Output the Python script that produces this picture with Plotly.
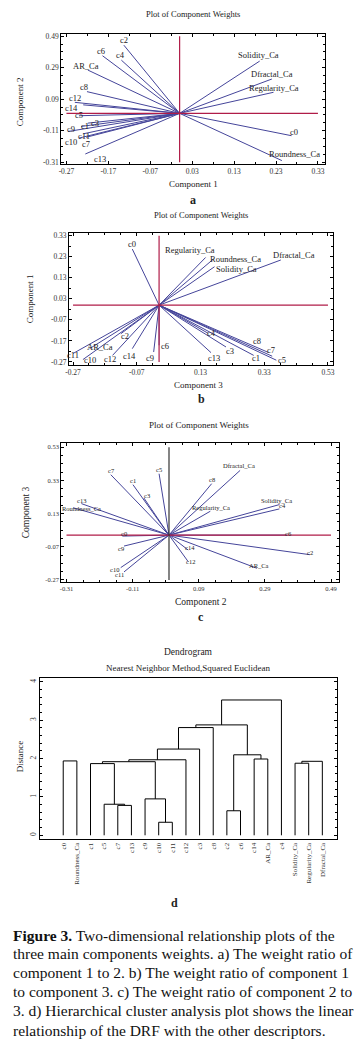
import plotly.graph_objects as go

W, H = 362, 1044
SERIF = "Liberation Serif"
VEC = "#45459a"
RED = "#b01c48"

# ---------------- data ----------------
names_a = ["c0", "c1", "c2", "c3", "c4", "c5", "c6", "c7", "c8", "c9", "c10", "c11", "c12", "c13", "c14",
           "AR_Ca", "Solidity_Ca", "Dfractal_Ca", "Regularity_Ca", "Roundness_Ca"]
comp1_a = [0.267, -0.235, -0.133, -0.219, -0.139, -0.240, -0.184, -0.223, -0.221, -0.266, -0.240, -0.230, -0.250, -0.225, -0.230,
           -0.219, 0.191, 0.220, 0.224, 0.244]
comp2_a = [-0.142, -0.083, 0.433, -0.062, 0.338, -0.015, 0.366, -0.152, 0.138, -0.115, -0.157, -0.130, 0.070, -0.258, 0.054,
           0.275, 0.332, 0.218, 0.134, -0.300]

names_b = names_a
comp3_b = [-0.084, 0.297, -0.120, 0.210, 0.154, 0.368, 0.000, 0.355, 0.343, -0.017, -0.239, -0.270, -0.146, 0.163, -0.084,
           -0.218, 0.174, 0.382, 0.146, 0.171]
comp1_b = [0.267, -0.239, -0.136, -0.199, -0.134, -0.262, -0.191, -0.243, -0.225, -0.223, -0.259, -0.230, -0.239, -0.226, -0.207,
           -0.207, 0.183, 0.215, 0.227, 0.220]

names_c = names_a
comp2_c = [-0.141, -0.109, 0.426, -0.076, 0.334, -0.030, 0.356, -0.176, 0.129, -0.136, -0.146, -0.136, 0.058, -0.265, 0.058,
           0.266, 0.334, 0.215, 0.125, -0.290]
comp3_c = [-0.006, 0.304, -0.118, 0.224, 0.158, 0.370, 0.000, 0.364, 0.310, -0.066, -0.196, -0.222, -0.160, 0.190, -0.090,
           -0.200, 0.184, 0.390, 0.144, 0.165]

ticks_a_x = [-0.27, -0.17, -0.07, 0.03, 0.13, 0.23, 0.33]
ticks_a_y = [-0.31, -0.11, 0.09, 0.29, 0.49]
ticks_b_x = [-0.27, -0.07, 0.13, 0.33, 0.53]
ticks_b_y = [-0.27, -0.17, -0.07, 0.03, 0.13, 0.23, 0.33]
ticks_c_x = [-0.31, -0.11, 0.09, 0.29, 0.49]
ticks_c_y = [-0.27, -0.07, 0.13, 0.33, 0.53]

leaves = ["c0", "Roundness_Ca", "c1", "c5", "c7", "c13", "c9", "c10", "c11", "c12", "c3", "c8",
          "c2", "c6", "c14", "AR_Ca", "c4", "Solidity_Ca", "Regularity_Ca", "Dfractal_Ca"]
merge_left = ["c7", "c5", "c1", "c10", "c9", "m2", "m5", "m6", "m7", "c2", "c14", "m9", "m8", "m12",
              "Solidity_Ca", "m14", "c0"]
merge_right = ["c13", "m0", "m1", "c11", "m3", "m4", "c12", "c3", "c8", "c6", "AR_Ca", "m10", "m11", "c4",
               "Regularity_Ca", "Dfractal_Ca", "Roundness_Ca"]
merge_height = [0.78, 0.81, 1.87, 0.34, 0.95, 1.92, 1.97, 2.25, 2.81, 0.64, 1.99, 2.10, 2.88, 3.53,
                1.88, 1.93, 1.94]

caption_lines = [
    "<b>Figure 3.</b> Two-dimensional relationship plots of the",
    "three main components weights. a) The weight ratio of",
    "component 1 to 2. b) The weight ratio of component 1",
    "to component 3. c) The weight ratio of component 2 to",
    "3. d) Hierarchical cluster analysis plot shows the linear",
    "relationship of the DRF with the other descriptors.",
]

# ---------------- label offsets (px, right/down) ----------------
off_a = {"c0": (2, -4), "c1": (4, 0), "c2": (0, -5), "c3": (7, 0), "c4": (-1, -5), "c5": (0, -1), "c6": (-1, -5),
         "c7": (0, 7), "c8": (-3, -5), "c9": (3, -2), "c10": (-8, 4), "c11": (1, 2), "c12": (0, -4), "c13": (15, 5),
         "c14": (-12, 3), "AR_Ca": (-2, -4), "Solidity_Ca": (-1, -6), "Dfractal_Ca": (0, -5),
         "Regularity_Ca": (0, -4), "Roundness_Ca": (13, -7)}
off_b = {"c0": (0, -5), "c1": (2, 3), "c2": (4, 2), "c3": (4, 4), "c4": (3, 0), "c5": (6, 0), "c6": (6, 1),
         "c7": (-1, -6), "c8": (-11, -11), "c9": (-4, 6), "c10": (7, 0), "c11": (0, 2), "c12": (-3, 4), "c13": (3, 5),
         "c14": (-3, 7), "AR_Ca": (10, -2), "Solidity_Ca": (22, 2), "Dfractal_Ca": (13, -5),
         "Regularity_Ca": (-16, -7), "Roundness_Ca": (22, 0)}
off_c = {"c0": (2, -3), "c1": (0, -4), "c2": (0, -2), "c3": (3, -2), "c4": (3, -3), "c5": (0, -4), "c6": (2, -2),
         "c7": (1, -4), "c8": (0, -4), "c9": (-3, 2), "c10": (-6, 2), "c11": (-5, 3), "c12": (2, 0), "c13": (0, -3),
         "c14": (2, -3), "AR_Ca": (2, -3), "Solidity_Ca": (-3, -4), "Dfractal_Ca": (-1, -5),
         "Regularity_Ca": (1, -4), "Roundness_Ca": (8, 1)}


def xd(p0, p1):
    return [p0 / W, p1 / W]


def yd(top, bottom):
    return [1 - bottom / H, 1 - top / H]


fig = go.Figure()
annotations = []


def ann(text, px, py, size=9, bold=False, angle=0, xanchor="center", color="#222"):
    annotations.append(dict(text=f"<b>{text}</b>" if bold else text, x=px / W, y=1 - py / H, xref="paper",
                            yref="paper", showarrow=False, xanchor=xanchor, yanchor="middle", textangle=angle,
                            borderpad=0, font=dict(family=SERIF, size=size, color=color)))


def vector_panel(ax, names, xs, ys, offs, xt, yt, vcolor, lsize):
    lx, ly = [], []
    for x, y in zip(xs, ys):
        lx += [0, x, None]
        ly += [0, y, None]
    xref = "x" if ax == 1 else f"x{ax}"
    yref = "y" if ax == 1 else f"y{ax}"
    fig.add_trace(go.Scatter(x=lx, y=ly, mode="lines", line=dict(color=VEC, width=1), xaxis=xref, yaxis=yref,
                             hoverinfo="skip", showlegend=False))
    fig.add_trace(go.Scatter(x=[xt[0], xt[-1]], y=[0, 0], mode="lines", line=dict(color=RED, width=1.2),
                             xaxis=xref, yaxis=yref, showlegend=False, hoverinfo="skip"))
    fig.add_trace(go.Scatter(x=[0, 0], y=[yt[0], yt[-1]], mode="lines", line=dict(color=vcolor, width=1.2),
                             xaxis=xref, yaxis=yref, showlegend=False, hoverinfo="skip"))
    for n, x, y in zip(names, xs, ys):
        dx, dy = offs[n]
        annotations.append(dict(text=n, x=x, y=y, xref=xref, yref=yref, showarrow=False, xshift=dx, yshift=-dy,
                                font=dict(family=SERIF, size=lsize, color="#222")))


vector_panel(1, names_a, comp1_a, comp2_a, off_a, ticks_a_x, ticks_a_y, RED, 8.5)
vector_panel(2, names_b, comp3_b, comp1_b, off_b, ticks_b_x, ticks_b_y, RED, 8.5)
vector_panel(3, names_c, comp2_c, comp3_c, off_c, ticks_c_x, ticks_c_y, "#333", 6.5)

# ---------------- dendrogram ----------------
pos = {n: (i, 0.0) for i, n in enumerate(leaves)}
dx_, dy_ = [], []
for i, (a, b, h) in enumerate(zip(merge_left, merge_right, merge_height)):
    xa, ha = pos[a]
    xb, hb = pos[b]
    dx_ += [xa, xa, xb, xb, None]
    dy_ += [ha, h, h, hb, None]
    pos[f"m{i}"] = ((xa + xb) / 2, h)
fig.add_trace(go.Scatter(x=dx_, y=dy_, mode="lines", line=dict(color="black", width=1), xaxis="x4", yaxis="y4",
                         showlegend=False, hoverinfo="skip"))

tickfont = dict(family=SERIF, size=7.5, color="#333")
frame = dict(showline=True, linecolor="black", linewidth=1, mirror="allticks", showgrid=False, zeroline=False,
             ticks="inside", ticklen=3, tickcolor="black", tickfont=tickfont)
small = {**frame, "tickfont": dict(family=SERIF, size=6.5, color="#333")}

layout = dict(
    width=W, height=H, margin=dict(l=0, r=0, t=0, b=0), paper_bgcolor="white", plot_bgcolor="white",
    xaxis=dict(domain=xd(58, 326), range=[-0.2825, 0.348], tickvals=ticks_a_x, ticktext=[f"{v:.2f}" for v in ticks_a_x],
               minor=dict(tickvals=[v + 0.05 for v in ticks_a_x[:-1]], ticks="inside", ticklen=2), anchor="y", **frame),
    yaxis=dict(domain=yd(32, 163), range=[-0.323, 0.505], tickvals=ticks_a_y, ticktext=[f"{v:.2f}" for v in ticks_a_y],
               minor=dict(tickvals=[v + 0.05 * k for v in ticks_a_y[:-1] for k in (1, 2, 3)], ticks="inside", ticklen=2),
               anchor="x", **frame),
    xaxis2=dict(domain=xd(66, 334), range=[-0.2824, 0.547], tickvals=ticks_b_x, ticktext=[f"{v:.2f}" for v in ticks_b_x],
                minor=dict(tickvals=[v + 0.05 * k for v in ticks_b_x[:-1] for k in (1, 2, 3)], ticks="inside", ticklen=2),
                anchor="y2", **frame),
    yaxis2=dict(domain=yd(232, 365), range=[-0.286, 0.344], tickvals=ticks_b_y, ticktext=[f"{v:.2f}" for v in ticks_b_y],
                minor=dict(tickvals=[v + 0.05 for v in ticks_b_y[:-1]], ticks="inside", ticklen=2), anchor="x2", **frame),
    xaxis3=dict(domain=xd(58, 340), range=[-0.326, 0.515], tickvals=ticks_c_x, ticktext=[f"{v:.2f}" for v in ticks_c_x],
                minor=dict(tickvals=[v + 0.05 * k for v in ticks_c_x[:-1] for k in (1, 2, 3)], ticks="inside", ticklen=2),
                anchor="y3", **small),
    yaxis3=dict(domain=yd(443, 583), range=[-0.284, 0.556], tickvals=ticks_c_y, ticktext=[f"{v:.2f}" for v in ticks_c_y],
                minor=dict(tickvals=[v + 0.05 * k for v in ticks_c_y[:-1] for k in (1, 2, 3)], ticks="inside", ticklen=2),
                anchor="x3", **small),
    xaxis4=dict(domain=xd(36, 338), range=[-1.74, 20.1], tickvals=list(range(len(leaves))), ticktext=leaves,
                tickangle=-90, anchor="y4", showline=True, linecolor="black", linewidth=1, mirror=True, ticks="",
                showgrid=False, zeroline=False, tickfont=dict(family=SERIF, size=7, color="#333")),
    yaxis4=dict(domain=yd(679, 841), range=[-0.096, 4.11], tickvals=[0, 1, 2, 3, 4], tickangle=-90,
                minor=dict(dtick=0.2, ticks="inside", ticklen=2), anchor="x4", **frame),
)
fig.update_layout(**layout)

# titles and axis titles
ann("Plot of Component Weights", 192, 12, size=8.5)
ann("Component 1", 192, 183, size=9)
ann("Component 2", 16, 100, size=9, angle=-90)
ann("a", 192, 199, size=12, bold=True)

ann("Plot of Component Weights", 200, 214, size=8.5)
ann("Component 3", 197, 385, size=9)
ann("Component 1", 26, 298, size=9, angle=-90)
ann("b", 200, 399, size=12, bold=True)

ann("Plot of Component Weights", 198, 425, size=9)
ann("Component 2", 200, 603, size=9.5)
ann("Component 3", 22, 513, size=9.5, angle=-90)
ann("c", 200, 618, size=12, bold=True)

ann("Dendrogram", 187, 653, size=9.5)
ann("Nearest Neighbor Method,Squared Euclidean", 187, 669, size=9)
ann("Distance", 17, 758, size=9, angle=-90)
ann("d", 173, 905, size=12, bold=True)

for i, line in enumerate(caption_lines):
    ann(line, 8, 938 + i * 19, size=15.5, xanchor="left", color="#111")

fig.update_layout(annotations=annotations)
fig.write_html("out.html", config={"displayModeBar": False},
               post_script="document.body.style.margin='0';document.body.style.overflow='hidden';")
